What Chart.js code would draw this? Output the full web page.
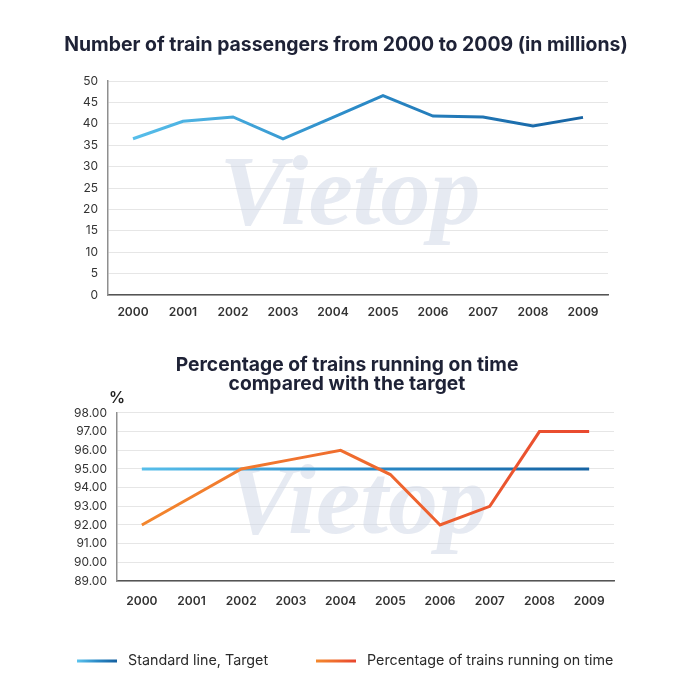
<!DOCTYPE html>
<html>
<head>
<meta charset="utf-8">
<script src="https://cdn.jsdelivr.net/npm/chart.js@4.4.1/dist/chart.umd.min.js"></script>
<style>
  html, body { margin: 0; padding: 0; background: #ffffff; }
  #wrap { position: relative; width: 700px; height: 700px; background: #fff; }
  #c1 { position: absolute; left: 0; top: 0; }
  #c2 { position: absolute; left: 0; top: 330px; }
</style>
</head>
<body>
<div id="wrap">
  <canvas id="c1" width="700" height="330"></canvas>
  <canvas id="c2" width="700" height="370"></canvas>
</div>
<script>
// ---- Data ----
const years = ['2000', '2001', '2002', '2003', '2004', '2005', '2006', '2007', '2008', '2009'];
const passengers = [36.5, 40.6, 41.6, 36.5, 41.5, 46.6, 41.8, 41.6, 39.5, 41.5];
const targetPct = [95, 95, 95, 95, 95, 95, 95, 95, 95, 95];
const onTimePct = [92, 93.5, 95, 95.5, 96, 94.7, 92, 93, 97, 97];
const title1 = 'Number of train passengers from 2000 to 2009 (in millions)';
const title2 = ['Percentage of trains running on time', 'compared with the target'];
const seriesNames = ['Standard line, Target', 'Percentage of trains running on time'];
const unitLabel = '%';
const watermarkText = 'Vietop';

Chart.defaults.font.family = 'Inter, "Noto Sans", sans-serif';
Chart.defaults.color = '#333333';

function hGradient(chart, stops) {
  const area = chart.chartArea;
  if (!area) return stops[0];
  const g = chart.ctx.createLinearGradient(area.left, 0, area.right, 0);
  stops.forEach((c, i) => g.addColorStop(i / (stops.length - 1), c));
  return g;
}
const blueStops = ['#5cc4ee', '#2b8ac7', '#145f9f'];
const orangeStops = ['#f3892d', '#ef6a2e', '#e8452f'];

const watermark = {
  id: 'watermark',
  beforeDatasetsDraw(chart) {
    const { ctx, chartArea } = chart;
    ctx.save();
    ctx.font = 'italic bold 100px "Liberation Serif", serif';
    ctx.fillStyle = 'rgba(205, 214, 230, 0.5)';
    ctx.textAlign = 'center';
    ctx.textBaseline = 'middle';
    const cx = (chartArea.left + chartArea.right) / 2 - 8;
    const cy = (chartArea.top + chartArea.bottom) / 2 + 10;
    ctx.fillText(watermarkText, cx, cy);
    ctx.restore();
  }
};

const unitPlugin = {
  id: 'unitLabel',
  afterDraw(chart) {
    const { ctx, chartArea } = chart;
    ctx.save();
    ctx.font = '600 16px Inter, sans-serif';
    ctx.fillStyle = '#222222';
    ctx.textAlign = 'center';
    ctx.textBaseline = 'middle';
    ctx.fillText(unitLabel, chartArea.left, chartArea.top - 15);
    ctx.restore();
  }
};

const customLegend = {
  id: 'customLegend',
  afterDraw(chart) {
    const { ctx } = chart;
    const y = 331;
    const items = [
      { x: 77, stops: blueStops, text: seriesNames[0] },
      { x: 316, stops: orangeStops, text: seriesNames[1] }
    ];
    ctx.save();
    items.forEach(it => {
      const g = ctx.createLinearGradient(it.x, 0, it.x + 40, 0);
      it.stops.forEach((c, i) => g.addColorStop(i / (it.stops.length - 1), c));
      ctx.strokeStyle = g;
      ctx.lineWidth = 3;
      ctx.beginPath();
      ctx.moveTo(it.x, y);
      ctx.lineTo(it.x + 40, y);
      ctx.stroke();
      ctx.font = '14.3px Inter, sans-serif';
      ctx.fillStyle = '#2b2b2b';
      ctx.textAlign = 'left';
      ctx.textBaseline = 'middle';
      ctx.fillText(it.text, it.x + 51, y);
    });
    ctx.restore();
  }
};

function noLabelClip(s) { s._computeLabelArea = () => undefined; }
function spacerAxis(w) {
  return {
    position: 'right',
    display: true,
    grid: { display: false, drawOnChartArea: false, drawTicks: false },
    border: { display: false },
    ticks: { display: false },
    afterFit(s) { s.width = w; }
  };
}

new Chart(document.getElementById('c1'), {
  type: 'line',
  data: {
    labels: years,
    datasets: [{
      label: 'Passengers',
      data: passengers,
      borderColor: (c) => hGradient(c.chart, blueStops),
      borderWidth: 3,
      pointRadius: 0,
      tension: 0,
      fill: false,
      yAxisID: 'y'
    }]
  },
  options: {
    responsive: false,
    animation: false,
    layout: { padding: { left: 0, right: 8, top: 0, bottom: 10 } },
    plugins: {
      legend: { display: false },
      tooltip: { enabled: false },
      title: {
        display: true,
        text: title1,
        color: '#1e2236',
        font: { size: 19.4, weight: 'bold', lineHeight: 1.1 },
        padding: { top: 34.3, bottom: 25.36 }
      }
    },
    scales: {
      x: {
        offset: true,
        grid: { display: false, drawTicks: false },
        border: { color: '#555555', width: 1.5 },
        ticks: { padding: 10, color: '#333', font: { size: 12, weight: '600' } },
        afterFit(s) { s.height = 25; }
      },
      y: {
        position: 'left',
        min: 0, max: 50,
        grid: { color: '#e6e6e6', drawTicks: false },
        border: { color: '#8f8f8f', width: 1.5 },
        ticks: { stepSize: 5, padding: 10, color: '#333', font: { size: 12 } },
        afterFit(s) { s.width = 108; noLabelClip(s); }
      },
      ySpacer: spacerAxis(84)
    }
  },
  plugins: [watermark]
});

new Chart(document.getElementById('c2'), {
  type: 'line',
  data: {
    labels: years,
    datasets: [{
      label: seriesNames[0],
      data: targetPct,
      borderColor: (c) => hGradient(c.chart, blueStops),
      borderWidth: 3,
      pointRadius: 0,
      tension: 0,
      fill: false,
      order: 2,
      yAxisID: 'y'
    }, {
      label: seriesNames[1],
      data: onTimePct,
      borderColor: (c) => hGradient(c.chart, orangeStops),
      borderWidth: 3,
      pointRadius: 0,
      tension: 0,
      fill: false,
      order: 1,
      yAxisID: 'y'
    }]
  },
  options: {
    responsive: false,
    animation: false,
    layout: { padding: { left: 0, right: 6, top: 0, bottom: 91 } },
    plugins: {
      legend: { display: false },
      tooltip: { enabled: false },
      title: {
        display: true,
        text: title2,
        color: '#1e2236',
        font: { size: 19.3, weight: 'bold', lineHeight: 1.0 },
        padding: { top: 25.35, bottom: 19 }
      }
    },
    scales: {
      x: {
        offset: true,
        grid: { display: false, drawTicks: false },
        border: { color: '#555555', width: 1.5 },
        ticks: { padding: 13, color: '#333', font: { size: 12, weight: '600' } },
        afterFit(s) { s.height = 28; }
      },
      y: {
        position: 'left',
        min: 89, max: 98,
        grid: { color: '#e6e6e6', drawTicks: false },
        border: { color: '#8f8f8f', width: 1.5 },
        ticks: {
          stepSize: 1, padding: 10, color: '#333', font: { size: 12 },
          callback: (v) => Number(v).toFixed(2)
        },
        afterFit(s) { s.width = 117; noLabelClip(s); }
      },
      ySpacer: spacerAxis(80)
    }
  },
  plugins: [watermark, unitPlugin, customLegend]
});
</script>
</body>
</html>
